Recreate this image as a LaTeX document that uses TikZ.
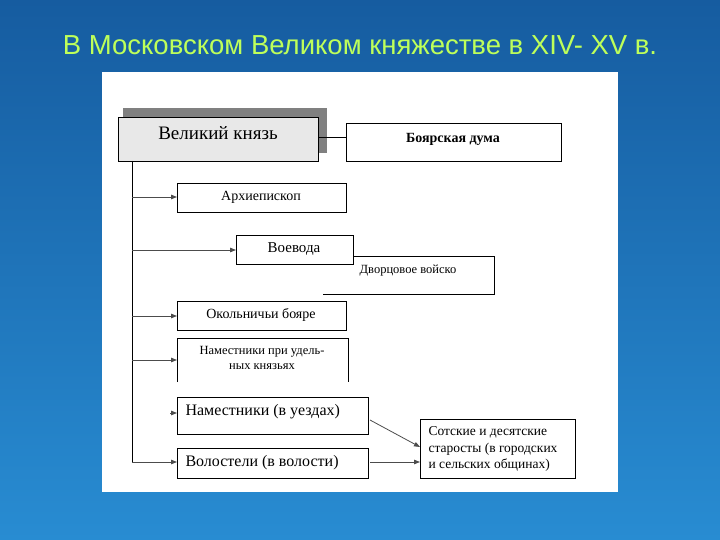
\documentclass[tikz,border=0pt]{standalone}
\usepackage{fontspec}
\setmainfont{Liberation Serif}
\newfontfamily\titlefont{Liberation Sans}
\usetikzlibrary{arrows.meta}
\definecolor{bgtop}{RGB}{22,92,160}
\definecolor{bgbot}{RGB}{40,140,210}
\definecolor{titlecol}{RGB}{190,255,90}
\begin{document}
\begin{tikzpicture}[x=1pt,y=-1pt,
  bx/.style={draw=black,line width=0.8pt},
  lbl/.style={font=\fontsize{14}{16}\selectfont,align=center},
  arr/.style={-{Triangle[length=6pt,width=4.5pt]},draw=black!70,line width=0.8pt}]
\useasboundingbox (0,0) rectangle (720,540);
\shade[top color=bgtop,bottom color=bgbot] (0,0) rectangle (720,540);
\node[font=\titlefont\fontsize{27.5}{30}\selectfont,text=titlecol] (title) at (360,45) {В Московском Великом княжестве в XIV- XV в.};
\fill[white] (102,72) rectangle (618,492);
% Великий князь
\fill[black!50] (123,108) rectangle (327,153);
\draw[bx,fill=black!9] (118,117) rectangle (318,161);
\node[lbl,font=\fontsize{19}{21}\selectfont] (vk) at (218,133) {Великий князь};
\draw[bx] (346,123) rectangle (561,161);
\node[lbl,font=\bfseries\fontsize{14}{16}\selectfont] (bd) at (453,139) {Боярская дума};
\draw[line width=0.8pt] (318,137) -- (346,137);
\draw[line width=1pt] (132,161) -- (132,462);
% Архиепископ
\draw[bx] (177,183) rectangle (346,212);
\node[lbl] (ar) at (261,197) {Архиепископ};
\draw[arr] (132,197) -- (177,197);
% Воевода / Дворцовое войско
\draw[bx] (353,256) -- (494,256) -- (494,294) -- (323,294);
\node[lbl,font=\fontsize{12.5}{14}\selectfont] (dv) at (408,271) {Дворцовое войско};
\draw[bx,fill=white] (236,235) rectangle (353,264);
\node[lbl,font=\fontsize{15}{17}\selectfont] (vo) at (294,249) {Воевода};
\draw[arr] (132,250) -- (236,250);
% Окольничьи
\draw[bx] (177,301) rectangle (346,330);
\node[lbl] (ok) at (261,315) {Окольничьи бояре};
\draw[arr] (132,316) -- (177,316);
% Наместники при удельных
\draw[bx] (177,382) -- (177,338) -- (348,338) -- (348,382);
\node[lbl,font=\fontsize{12.5}{15}\selectfont] (nu) at (262,358) {Наместники при удель-\\ных князьях};
\draw[arr] (132,360) -- (177,360);
% Наместники в уездах
\draw[bx] (177,397) rectangle (368,434);
\node[lbl,font=\fontsize{16}{18}\selectfont,anchor=west] (nz) at (182,412) {Наместники (в уездах)};
\draw[arr] (170,413) -- (177,413);
% Волостели
\draw[bx] (177,448) rectangle (368,478);
\node[lbl,font=\fontsize{16}{18}\selectfont,anchor=west] (vl) at (182,463) {Волостели (в волости)};
\draw[arr] (132,462) -- (177,462);
% Сотские
\draw[bx] (420,419) rectangle (575,478);
\node[lbl,font=\fontsize{13.5}{16.5}\selectfont,align=left,anchor=west] (so) at (425,449) {Сотские и десятские\\старосты (в городских\\и сельских общинах)};
\draw[arr] (370,420) -- (420,447);
\draw[arr] (370,462) -- (420,462);
\end{tikzpicture}
\end{document}
